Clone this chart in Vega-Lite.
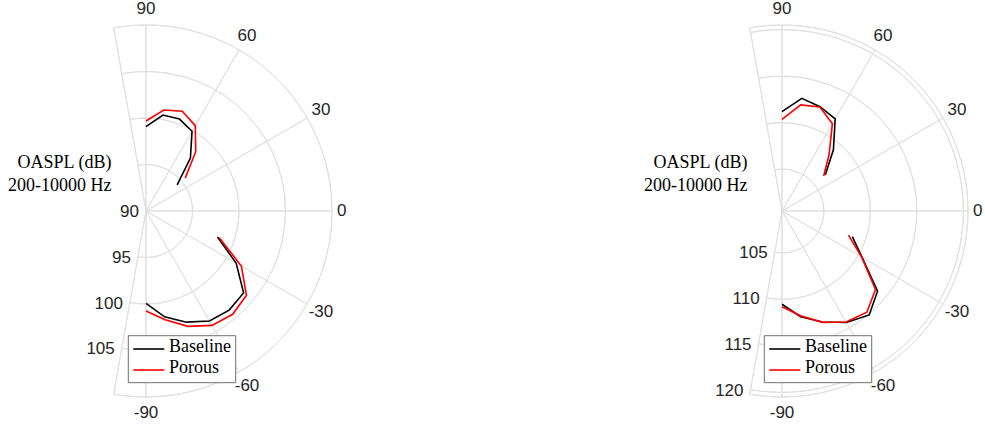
{
  "$schema": "https://vega.github.io/schema/vega-lite/v6.json",
  "padding": 0,
  "spacing": 0,
  "bounds": "flush",
  "background": "white",
  "config": {"view": {"stroke": null}},
  "resolve": {"scale": {"x": "independent", "y": "independent", "theta": "independent", "radius": "independent"}},
  "hconcat": [
    {
      "width": 492,
      "height": 429,
      "layer": [
        {
          "data": {"values": [{"r": 95}, {"r": 100}, {"r": 105}, {"r": 110}]},
          "mark": {"type": "arc", "filled": false, "stroke": "#e0e0e0", "strokeWidth": 1},
          "encoding": {
            "x": {"datum": 0, "type": "quantitative", "scale": {"domain": [-15.6989, 37.2043], "nice": false, "zero": false}, "axis": null},
            "y": {"datum": 0, "type": "quantitative", "scale": {"domain": [-23.4409, 22.6882], "nice": false, "zero": false}, "axis": null},
            "theta": {"datum": -100, "type": "quantitative", "scale": {"domain": [-100, 100], "range": [3.3161256, -0.1745329]}},
            "theta2": {"datum": 100},
            "radius": {"field": "r", "type": "quantitative", "stack": null, "scale": {"type": "linear", "domain": [90, 110], "range": [0, 186], "zero": false}},
            "radius2": {"field": "r"}
          }
        },
        {
          "data": {"values": [{"a": -100}, {"a": -90}, {"a": -60}, {"a": -30}, {"a": 0}, {"a": 30}, {"a": 60}, {"a": 90}, {"a": 100}]},
          "mark": {"type": "arc", "filled": false, "stroke": "#e0e0e0", "strokeWidth": 1},
          "encoding": {
            "x": {"datum": 0, "type": "quantitative"},
            "y": {"datum": 0, "type": "quantitative"},
            "theta": {"field": "a", "type": "quantitative", "stack": null},
            "theta2": {"field": "a"},
            "radius": {"datum": 90, "type": "quantitative"},
            "radius2": {"datum": 110}
          }
        },
        {
          "data": {"values": [{"a": -90, "t": "-90"}, {"a": -60, "t": "-60"}, {"a": -30, "t": "-30"}, {"a": 0, "t": "0"}, {"a": 30, "t": "30"}, {"a": 60, "t": "60"}, {"a": 90, "t": "90"}]},
          "transform": [{"filter": "datum.a != 0"}],
          "mark": {"type": "text", "font": "Liberation Sans", "fontSize": 17, "color": "#262626", "align": "center", "baseline": "middle"},
          "encoding": {
            "x": {"datum": 0, "type": "quantitative"},
            "y": {"datum": 0, "type": "quantitative"},
            "theta": {"field": "a", "type": "quantitative", "stack": null},
            "radius": {"datum": 111.72, "type": "quantitative"},
            "text": {"field": "t"}
          }
        },
        {
          "data": {"values": [{"a": 0, "t": "0"}]},
          "mark": {"type": "text", "font": "Liberation Sans", "fontSize": 17, "color": "#262626", "align": "left", "baseline": "middle"},
          "encoding": {
            "x": {"datum": 0, "type": "quantitative"},
            "y": {"datum": 0, "type": "quantitative"},
            "theta": {"field": "a", "type": "quantitative", "stack": null},
            "radius": {"datum": 110.54, "type": "quantitative"},
            "text": {"field": "t"}
          }
        },
        {
          "data": {"values": [{"r": 90}, {"r": 95}, {"r": 100}, {"r": 105}]},
          "mark": {"type": "text", "font": "Liberation Sans", "fontSize": 17, "color": "#262626", "align": "right", "baseline": "middle", "dx": -7, "dy": 1},
          "encoding": {
            "x": {"datum": 0, "type": "quantitative"},
            "y": {"datum": 0, "type": "quantitative"},
            "theta": {"datum": -100, "type": "quantitative"},
            "radius": {"field": "r", "type": "quantitative", "stack": null},
            "text": {"field": "r", "type": "quantitative", "format": "d"}
          }
        },
        {
          "data": {"values": [
            {"series": "Baseline", "part": "front", "angle": 90, "dB": 99.07},
            {"series": "Baseline", "part": "front", "angle": 80, "dB": 100.48},
            {"series": "Baseline", "part": "front", "angle": 70, "dB": 100.52},
            {"series": "Baseline", "part": "front", "angle": 60, "dB": 99.9},
            {"series": "Baseline", "part": "front", "angle": 50, "dB": 97.43},
            {"series": "Baseline", "part": "front", "angle": 40, "dB": 94.37},
            {"series": "Porous", "part": "front", "angle": 90, "dB": 99.68},
            {"series": "Porous", "part": "front", "angle": 80, "dB": 101.02},
            {"series": "Porous", "part": "front", "angle": 70, "dB": 101.42},
            {"series": "Porous", "part": "front", "angle": 60, "dB": 100.6},
            {"series": "Porous", "part": "front", "angle": 50, "dB": 98.32},
            {"series": "Porous", "part": "front", "angle": 40, "dB": 95.5},
            {"series": "Baseline", "part": "rear", "angle": -20, "dB": 98.18},
            {"series": "Baseline", "part": "rear", "angle": -30, "dB": 101.19},
            {"series": "Baseline", "part": "rear", "angle": -40, "dB": 103.7},
            {"series": "Baseline", "part": "rear", "angle": -50, "dB": 103.91},
            {"series": "Baseline", "part": "rear", "angle": -60, "dB": 103.65},
            {"series": "Baseline", "part": "rear", "angle": -70, "dB": 102.72},
            {"series": "Baseline", "part": "rear", "angle": -80, "dB": 101.55},
            {"series": "Baseline", "part": "rear", "angle": -90, "dB": 99.93},
            {"series": "Porous", "part": "rear", "angle": -20, "dB": 98.39},
            {"series": "Porous", "part": "rear", "angle": -30, "dB": 101.84},
            {"series": "Porous", "part": "rear", "angle": -40, "dB": 104.1},
            {"series": "Porous", "part": "rear", "angle": -50, "dB": 104.5},
            {"series": "Porous", "part": "rear", "angle": -60, "dB": 104.2},
            {"series": "Porous", "part": "rear", "angle": -70, "dB": 103.2},
            {"series": "Porous", "part": "rear", "angle": -80, "dB": 101.88},
            {"series": "Porous", "part": "rear", "angle": -90, "dB": 100.75}
          ]},
          "transform": [
            {"calculate": "(datum.dB - 90) * cos(datum.angle * PI / 180)", "as": "px"},
            {"calculate": "(datum.dB - 90) * sin(datum.angle * PI / 180)", "as": "py"}
          ],
          "mark": {"type": "line", "strokeWidth": 1.6},
          "encoding": {
            "x": {"field": "px", "type": "quantitative"},
            "y": {"field": "py", "type": "quantitative"},
            "color": {"field": "series", "type": "nominal", "scale": {"domain": ["Baseline", "Porous"], "range": ["#000000", "#ff0000"]}, "legend": null},
            "detail": {"field": "part"},
            "order": {"field": "angle", "type": "quantitative"}
          }
        },
        {
          "data": {"values": [{"t": "OASPL (dB)"}]},
          "mark": {"type": "text", "font": "Liberation Serif", "fontSize": 18, "color": "#000000", "align": "center", "baseline": "middle"},
          "encoding": {"x": {"datum": -8.763, "type": "quantitative"}, "y": {"datum": 5.129, "type": "quantitative"}, "text": {"field": "t"}}
        },
        {
          "data": {"values": [{"t": "200-10000 Hz"}]},
          "mark": {"type": "text", "font": "Liberation Serif", "fontSize": 18, "color": "#000000", "align": "center", "baseline": "middle"},
          "encoding": {"x": {"datum": -9.269, "type": "quantitative"}, "y": {"datum": 2.688, "type": "quantitative"}, "text": {"field": "t"}}
        },
        {
          "data": {"values": [{"box": "legend"}]},
          "mark": {"type": "rect", "fill": "#ffffff", "stroke": "#707070", "strokeWidth": 1},
          "encoding": {"x": {"datum": -1.903, "type": "quantitative"}, "x2": {"datum": 9.645}, "y": {"datum": -13.41, "type": "quantitative"}, "y2": {"datum": -18.46}}
        },
        {
          "data": {"values": [{"series": "Baseline"}]},
          "mark": {"type": "rule", "color": "#000000", "strokeWidth": 1.6},
          "encoding": {"x": {"datum": -1.37, "type": "quantitative"}, "x2": {"datum": 1.97}, "y": {"datum": -14.84, "type": "quantitative"}}
        },
        {
          "data": {"values": [{"series": "Porous"}]},
          "mark": {"type": "rule", "color": "#ff0000", "strokeWidth": 1.6},
          "encoding": {"x": {"datum": -1.37, "type": "quantitative"}, "x2": {"datum": 1.97}, "y": {"datum": -17.1, "type": "quantitative"}}
        },
        {
          "data": {"values": [{"series": "Baseline"}]},
          "mark": {"type": "text", "font": "Liberation Serif", "fontSize": 18, "color": "#000000", "align": "left", "baseline": "middle"},
          "encoding": {"x": {"datum": 2.473, "type": "quantitative"}, "y": {"datum": -14.66, "type": "quantitative"}, "text": {"field": "series"}}
        },
        {
          "data": {"values": [{"series": "Porous"}]},
          "mark": {"type": "text", "font": "Liberation Serif", "fontSize": 18, "color": "#000000", "align": "left", "baseline": "middle"},
          "encoding": {"x": {"datum": 2.473, "type": "quantitative"}, "y": {"datum": -16.91, "type": "quantitative"}, "text": {"field": "series"}}
        }
      ]
    },
    {
      "width": 493,
      "height": 429,
      "layer": [
        {
          "data": {"values": [{"r": 105}, {"r": 110}, {"r": 115}, {"r": 120}, {"r": 120.5}]},
          "mark": {"type": "arc", "filled": false, "stroke": "#e0e0e0", "strokeWidth": 1},
          "encoding": {
            "x": {"datum": 0, "type": "quantitative", "scale": {"domain": [-31.1828, 21.828], "nice": false, "zero": false}, "axis": null},
            "y": {"datum": 0, "type": "quantitative", "scale": {"domain": [-23.4409, 22.6882], "nice": false, "zero": false}, "axis": null},
            "theta": {"datum": -100, "type": "quantitative", "scale": {"domain": [-100, 100], "range": [3.3161256, -0.1745329]}},
            "theta2": {"datum": 100},
            "radius": {"field": "r", "type": "quantitative", "stack": null, "scale": {"type": "linear", "domain": [100.5, 120.5], "range": [0, 186], "zero": false}},
            "radius2": {"field": "r"}
          }
        },
        {
          "data": {"values": [{"a": -100}, {"a": -90}, {"a": -60}, {"a": -30}, {"a": 0}, {"a": 30}, {"a": 60}, {"a": 90}, {"a": 100}]},
          "mark": {"type": "arc", "filled": false, "stroke": "#e0e0e0", "strokeWidth": 1},
          "encoding": {
            "x": {"datum": 0, "type": "quantitative"},
            "y": {"datum": 0, "type": "quantitative"},
            "theta": {"field": "a", "type": "quantitative", "stack": null},
            "theta2": {"field": "a"},
            "radius": {"datum": 100.5, "type": "quantitative"},
            "radius2": {"datum": 120.5}
          }
        },
        {
          "data": {"values": [{"a": -90, "t": "-90"}, {"a": -60, "t": "-60"}, {"a": -30, "t": "-30"}, {"a": 0, "t": "0"}, {"a": 30, "t": "30"}, {"a": 60, "t": "60"}, {"a": 90, "t": "90"}]},
          "transform": [{"filter": "datum.a != 0"}],
          "mark": {"type": "text", "font": "Liberation Sans", "fontSize": 17, "color": "#262626", "align": "center", "baseline": "middle"},
          "encoding": {
            "x": {"datum": 0, "type": "quantitative"},
            "y": {"datum": 0, "type": "quantitative"},
            "theta": {"field": "a", "type": "quantitative", "stack": null},
            "radius": {"datum": 122.22, "type": "quantitative"},
            "text": {"field": "t"}
          }
        },
        {
          "data": {"values": [{"a": 0, "t": "0"}]},
          "mark": {"type": "text", "font": "Liberation Sans", "fontSize": 17, "color": "#262626", "align": "left", "baseline": "middle"},
          "encoding": {
            "x": {"datum": 0, "type": "quantitative"},
            "y": {"datum": 0, "type": "quantitative"},
            "theta": {"field": "a", "type": "quantitative", "stack": null},
            "radius": {"datum": 121.04, "type": "quantitative"},
            "text": {"field": "t"}
          }
        },
        {
          "data": {"values": [{"r": 105}, {"r": 110}, {"r": 115}, {"r": 120}]},
          "mark": {"type": "text", "font": "Liberation Sans", "fontSize": 17, "color": "#262626", "align": "right", "baseline": "middle", "dx": -7, "dy": 1},
          "encoding": {
            "x": {"datum": 0, "type": "quantitative"},
            "y": {"datum": 0, "type": "quantitative"},
            "theta": {"datum": -100, "type": "quantitative"},
            "radius": {"field": "r", "type": "quantitative", "stack": null},
            "text": {"field": "r", "type": "quantitative", "format": "d"}
          }
        },
        {
          "data": {"values": [
            {"series": "Baseline", "part": "front", "angle": 90, "dB": 111.18},
            {"series": "Baseline", "part": "front", "angle": 80, "dB": 112.8},
            {"series": "Baseline", "part": "front", "angle": 70, "dB": 112.44},
            {"series": "Baseline", "part": "front", "angle": 60, "dB": 111.94},
            {"series": "Baseline", "part": "front", "angle": 50, "dB": 109.1},
            {"series": "Baseline", "part": "front", "angle": 40, "dB": 106.58},
            {"series": "Porous", "part": "front", "angle": 90, "dB": 110.36},
            {"series": "Porous", "part": "front", "angle": 80, "dB": 112.08},
            {"series": "Porous", "part": "front", "angle": 70, "dB": 112.4},
            {"series": "Porous", "part": "front", "angle": 60, "dB": 111.34},
            {"series": "Porous", "part": "front", "angle": 50, "dB": 108.36},
            {"series": "Porous", "part": "front", "angle": 40, "dB": 106.35},
            {"series": "Baseline", "part": "rear", "angle": -20, "dB": 108.55},
            {"series": "Baseline", "part": "rear", "angle": -30, "dB": 110.43},
            {"series": "Baseline", "part": "rear", "angle": -40, "dB": 113.91},
            {"series": "Baseline", "part": "rear", "angle": -50, "dB": 115.09},
            {"series": "Baseline", "part": "rear", "angle": -60, "dB": 114.34},
            {"series": "Baseline", "part": "rear", "angle": -70, "dB": 113.2},
            {"series": "Baseline", "part": "rear", "angle": -80, "dB": 112.05},
            {"series": "Baseline", "part": "rear", "angle": -90, "dB": 110.53},
            {"series": "Porous", "part": "rear", "angle": -20, "dB": 108.11},
            {"series": "Porous", "part": "rear", "angle": -30, "dB": 110.38},
            {"series": "Porous", "part": "rear", "angle": -40, "dB": 113.62},
            {"series": "Porous", "part": "rear", "angle": -50, "dB": 114.7},
            {"series": "Porous", "part": "rear", "angle": -60, "dB": 114.29},
            {"series": "Porous", "part": "rear", "angle": -70, "dB": 113.24},
            {"series": "Porous", "part": "rear", "angle": -80, "dB": 111.94},
            {"series": "Porous", "part": "rear", "angle": -90, "dB": 110.79}
          ]},
          "transform": [
            {"calculate": "(datum.dB - 100.5) * cos(datum.angle * PI / 180)", "as": "px"},
            {"calculate": "(datum.dB - 100.5) * sin(datum.angle * PI / 180)", "as": "py"}
          ],
          "mark": {"type": "line", "strokeWidth": 1.6},
          "encoding": {
            "x": {"field": "px", "type": "quantitative"},
            "y": {"field": "py", "type": "quantitative"},
            "color": {"field": "series", "type": "nominal", "scale": {"domain": ["Baseline", "Porous"], "range": ["#000000", "#ff0000"]}, "legend": null},
            "detail": {"field": "part"},
            "order": {"field": "angle", "type": "quantitative"}
          }
        },
        {
          "data": {"values": [{"t": "OASPL (dB)"}]},
          "mark": {"type": "text", "font": "Liberation Serif", "fontSize": 18, "color": "#000000", "align": "center", "baseline": "middle"},
          "encoding": {"x": {"datum": -8.763, "type": "quantitative"}, "y": {"datum": 5.129, "type": "quantitative"}, "text": {"field": "t"}}
        },
        {
          "data": {"values": [{"t": "200-10000 Hz"}]},
          "mark": {"type": "text", "font": "Liberation Serif", "fontSize": 18, "color": "#000000", "align": "center", "baseline": "middle"},
          "encoding": {"x": {"datum": -9.269, "type": "quantitative"}, "y": {"datum": 2.688, "type": "quantitative"}, "text": {"field": "t"}}
        },
        {
          "data": {"values": [{"box": "legend"}]},
          "mark": {"type": "rect", "fill": "#ffffff", "stroke": "#707070", "strokeWidth": 1},
          "encoding": {"x": {"datum": -1.903, "type": "quantitative"}, "x2": {"datum": 9.645}, "y": {"datum": -13.41, "type": "quantitative"}, "y2": {"datum": -18.46}}
        },
        {
          "data": {"values": [{"series": "Baseline"}]},
          "mark": {"type": "rule", "color": "#000000", "strokeWidth": 1.6},
          "encoding": {"x": {"datum": -1.37, "type": "quantitative"}, "x2": {"datum": 1.97}, "y": {"datum": -14.84, "type": "quantitative"}}
        },
        {
          "data": {"values": [{"series": "Porous"}]},
          "mark": {"type": "rule", "color": "#ff0000", "strokeWidth": 1.6},
          "encoding": {"x": {"datum": -1.37, "type": "quantitative"}, "x2": {"datum": 1.97}, "y": {"datum": -17.1, "type": "quantitative"}}
        },
        {
          "data": {"values": [{"series": "Baseline"}]},
          "mark": {"type": "text", "font": "Liberation Serif", "fontSize": 18, "color": "#000000", "align": "left", "baseline": "middle"},
          "encoding": {"x": {"datum": 2.473, "type": "quantitative"}, "y": {"datum": -14.66, "type": "quantitative"}, "text": {"field": "series"}}
        },
        {
          "data": {"values": [{"series": "Porous"}]},
          "mark": {"type": "text", "font": "Liberation Serif", "fontSize": 18, "color": "#000000", "align": "left", "baseline": "middle"},
          "encoding": {"x": {"datum": 2.473, "type": "quantitative"}, "y": {"datum": -16.91, "type": "quantitative"}, "text": {"field": "series"}}
        }
      ]
    }
  ]
}
